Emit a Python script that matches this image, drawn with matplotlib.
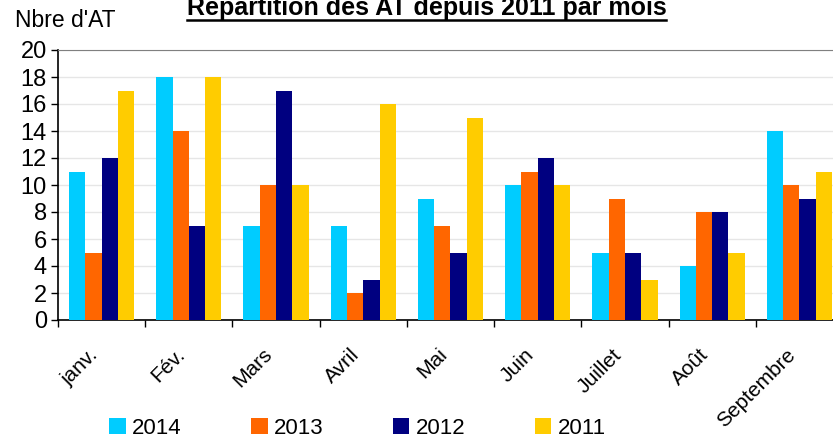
import numpy as np
import matplotlib.pyplot as plt
from matplotlib.patches import Patch
from matplotlib.lines import Line2D

plt.rcParams['font.family'] = ['Liberation Sans', 'DejaVu Sans']

months = ["janv.", "Fév.", "Mars", "Avril", "Mai", "Juin", "Juillet", "Août", "Septembre"]
years = ["2014", "2013", "2012", "2011"]
v2014 = [11, 18, 7, 7, 9, 10, 5, 4, 14]
v2013 = [5, 14, 10, 2, 7, 11, 9, 8, 10]
v2012 = [12, 7, 17, 3, 5, 12, 5, 8, 9]
v2011 = [17, 18, 10, 16, 15, 10, 3, 5, 11]
colors = ["#00CCFF", "#FF6600", "#000080", "#FFCC00"]

series = [v2014, v2013, v2012, v2011]

fig = plt.figure(figsize=(8.33, 4.43), dpi=100)
ax = fig.add_axes([58/833, 123/443, 785/833, 270/443])

x = np.arange(len(months))
w = 0.187
for i, (vals, c) in enumerate(zip(series, colors)):
    ax.bar(x + (i - 1.5) * w, vals, width=w, color=c, zorder=3)

ax.set_xlim(-0.5, len(months) - 0.5)
ax.set_ylim(0, 20)
ax.set_yticks(range(0, 21, 2))
ax.tick_params(axis='y', labelsize=17, length=5, width=1, direction='out', pad=3)
ax.set_xticks(x)
ax.set_xticklabels(months, rotation=45, ha='right', fontsize=15)
ax.tick_params(axis='x', which='major', length=0, pad=18)
ax.set_xticks(np.arange(-0.5, len(months), 1), minor=True)
ax.tick_params(axis='x', which='minor', length=5, width=1, direction='out')

ax.grid(axis='y', color='#E6E6E6', linewidth=1, zorder=0)
ax.spines['left'].set_linewidth(1.2)
ax.spines['bottom'].set_linewidth(1.2)
ax.spines['top'].set_color('#808080')
ax.spines['right'].set_visible(False)

fig.text(15/833, 1 - 27/443, "Nbre d'AT", fontsize=16.5, va='baseline', ha='left')
t = fig.text(0.512, 1 - 15/443, "Répartition des AT depuis 2011 par mois",
             fontsize=18, fontweight='bold', ha='center', va='baseline')

fig.canvas.draw()
bb = t.get_window_extent(fig.canvas.get_renderer()).transformed(fig.transFigure.inverted())
fig.add_artist(Line2D([bb.x0, bb.x1], [1 - 20/443, 1 - 20/443], color='black', linewidth=1.8,
                      transform=fig.transFigure))

handles = [Patch(facecolor=c, edgecolor='none') for c in colors]
fig.legend(handles, years, loc='center left', bbox_to_anchor=(109/833, 1 - 428/443),
           ncol=4, frameon=False, fontsize=16, handlelength=0.75, handleheight=0.75,
           handletextpad=0.3, columnspacing=3.1, borderpad=0, borderaxespad=0)

fig.savefig("out.png", dpi=100)
